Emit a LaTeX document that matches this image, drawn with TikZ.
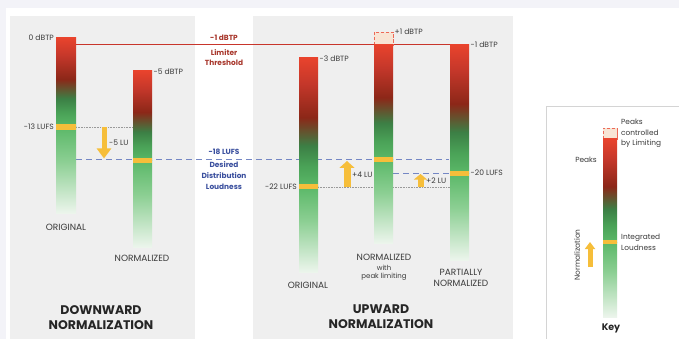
\documentclass[tikz,border=0pt]{standalone}
\usepackage{fontspec}
\setmainfont{Poppins}
\usetikzlibrary{arrows.meta,positioning}

\definecolor{pagetint}{HTML}{F3F3F8}
\definecolor{panelgray}{HTML}{EFEFEF}
\definecolor{keyframe}{HTML}{D4D4D4}
\definecolor{lvlRed}{HTML}{E8432D}
\definecolor{lvlRedMd}{HTML}{C4372A}
\definecolor{lvlRedDk}{HTML}{8C2718}
\definecolor{lvlGreenDk}{HTML}{3C7F45}
\definecolor{lvlGreenMd}{HTML}{4AA257}
\definecolor{lvlGreen}{HTML}{5BB868}
\definecolor{lvlGreenLt}{HTML}{8CCF93}
\definecolor{lvlPale}{HTML}{ECF5EC}
\definecolor{lvlYellow}{HTML}{F6BE3A}
\definecolor{limitRed}{HTML}{C8352B}
\definecolor{limitText}{HTML}{A8372C}
\definecolor{targetBlue}{HTML}{3A4F9E}
\definecolor{targetLine}{HTML}{7487C4}
\definecolor{labelGray}{HTML}{3A3A3A}
\definecolor{peakFill}{HTML}{F8E4D4}

\pgfdeclareverticalshading{peakshade}{100bp}{color(0bp)=(lvlGreen); color(25bp)=(lvlGreen); color(33bp)=(lvlGreenMd); color(41bp)=(lvlGreenDk); color(52bp)=(lvlRedDk); color(65bp)=(lvlRedMd); color(75bp)=(lvlRed); color(100bp)=(lvlRed)}
\pgfdeclareverticalshading{fadeshade}{100bp}{color(0bp)=(lvlPale); color(25bp)=(lvlPale); color(55bp)=(lvlGreenLt); color(75bp)=(lvlGreen); color(100bp)=(lvlGreen)}

\tikzset{
  lvllabel/.style={font=\fontsize{7.6}{9}\selectfont, text=labelGray, inner sep=1pt},
  barname/.style={font=\fontsize{9}{11}\selectfont, text=labelGray, align=center, inner sep=0pt},
  subname/.style={font=\fontsize{7}{9}\selectfont, text=labelGray, align=center, inner sep=0pt},
  paneltitle/.style={font=\fontsize{12.5}{15}\selectfont\bfseries, text=black!85, align=center, inner sep=0pt},
  limitlabel/.style={font=\fontsize{7.4}{10}\selectfont\bfseries, text=limitText, align=center, inner sep=0pt},
  targetlabel/.style={font=\fontsize{7.4}{11}\selectfont\bfseries, text=targetBlue, align=center, inner sep=0pt},
  keylabel/.style={font=\fontsize{7.4}{10.5}\selectfont, text=labelGray, align=left, inner sep=0pt},
  lvlband/.style={fill=lvlYellow},
  peakbox/.style={fill=peakFill, draw=lvlRed!80, densely dashed, line width=0.7pt},
  gainarrow/.style={draw=lvlYellow, line cap=butt},
  refdotted/.style={draw=gray!80, densely dotted, line width=0.6pt},
  refdashed/.style={draw=targetLine, dash pattern=on 6pt off 4pt, line width=1pt}
}

\begin{document}
\begin{tikzpicture}[x=1pt,y=-1pt]
\useasboundingbox (0,0) rectangle (679,339);
\fill [pagetint] (0,0) rectangle (679,339);
\fill [white] (6,8) rectangle (679,339);
\fill [panelgray] (10,16) rectangle (195,339);
\fill [panelgray] (253,16) rectangle (513,339);
\draw [keyframe, fill=white, line width=0.8pt] (546,106) rectangle (690,350);

% reference lines
\draw [limitRed, line width=1pt] (76,45) -- (450,45);
\draw [refdashed] (76,159.5) -- (449,159.5);
\draw [refdashed] (393,173) -- (449,173);
\draw [refdotted] (76,127) -- (133,127);
\draw [refdotted] (318,186.8) -- (450,186.8);

% downward: original
\shade [shading=peakshade] (56,38) rectangle (76,127);
\shade [shading=fadeshade] (56,127) rectangle (76,213);
\fill [lvlband] (56,124.5) rectangle (76,129.8);
% downward: normalized
\shade [shading=peakshade] (133,71) rectangle (152,160.5);
\shade [shading=fadeshade] (133,160.5) rectangle (152,247);
\fill [lvlband] (133,157.8) rectangle (152,163.2);
% upward: original
\shade [shading=peakshade] (299,58) rectangle (318,186.8);
\shade [shading=fadeshade] (299,186.8) rectangle (318,272);
\fill [lvlband] (299,184.2) rectangle (318,189.4);
% upward: normalized with peak limiting
\fill [peakbox] (374,32) rectangle (393,45);
\draw [peakbox] (374,45) -- (374,32) -- (393,32) -- (393,45);
\shade [shading=peakshade] (374,45) rectangle (393,159.5);
\shade [shading=fadeshade] (374,159.5) rectangle (393,243);
\fill [lvlband] (374,156.8) rectangle (393,162.2);
% upward: partially normalized
\shade [shading=peakshade] (450,45) rectangle (469,173);
\shade [shading=fadeshade] (450,173) rectangle (469,260);
\fill [lvlband] (450,170.6) rectangle (469,175.6);
% key
\fill [peakbox] (603,128) rectangle (617,139);
\draw [peakbox] (603,139) -- (603,128) -- (617,128) -- (617,139);
\shade [shading=peakshade] (603,139) rectangle (617,242);
\shade [shading=fadeshade] (603,242) rectangle (617,317);
\fill [lvlband] (603,239.8) rectangle (617,244.2);

% gain arrows
\coordinate (dnfrom) at (104,127.5);
\coordinate (dnto) at (104,158.5);
\coordinate (upfromA) at (347,186.5);
\coordinate (uptoA) at (347,161);
\coordinate (upfromB) at (420.5,186.5);
\coordinate (uptoB) at (420.5,174);
\coordinate (keyfrom) at (590,267);
\coordinate (keyto) at (590,242);
\draw [gainarrow, line width=5pt, -{Triangle[length=10pt,width=14pt]}] (dnfrom) -- (dnto);
\draw [gainarrow, line width=7pt, -{Triangle[length=7pt,width=15pt]}] (upfromA) -- (uptoA);
\draw [gainarrow, line width=6pt, -{Triangle[length=5.5pt,width=13pt]}] (upfromB) -- (uptoB);
\draw [gainarrow, line width=5pt, -{Triangle[length=7pt,width=10pt]}] (keyfrom) -- (keyto);

% level labels
\node [lvllabel, anchor=east] (peakA) at (55,38) {0 dBTP};
\node [lvllabel, anchor=west] (peakB) at (152.5,72) {-5 dBTP};
\node [lvllabel, anchor=east] (loudA) at (55,127) {-13 LUFS};
\node [lvllabel, anchor=west] (gainA) at (108,143) {-5 LU};
\node [lvllabel, anchor=west] (peakC) at (318.5,59) {-3 dBTP};
\node [lvllabel, anchor=east] (loudC) at (298,187) {-22 LUFS};
\node [lvllabel, anchor=west] (peakD) at (393.5,32) {+1 dBTP};
\node [lvllabel, anchor=west] (peakE) at (469.5,45) {-1 dBTP};
\node [lvllabel, anchor=west] (loudE) at (469.5,173) {-20 LUFS};
\node [lvllabel, anchor=west] (gainC) at (351,175) {+4 LU};
\node [lvllabel, anchor=west] (gainD) at (425,181) {+2 LU};

% centre labels
\node [limitlabel] (limitval) at (224,38) {-1 dBTP};
\node [limitlabel, anchor=north] (limitname) at (224,49) {Limiter\\Threshold};
\node [targetlabel] (targetval) at (224,151.5) {-18 LUFS};
\node [targetlabel, anchor=north] (targetname) at (224,161.5) {Desired\\Distribution\\Loudness};

% bar names
\node [barname] (nameA) at (66,227) {ORIGINAL};
\node [barname] (nameB) at (142,258) {NORMALIZED};
\node [barname] (nameC) at (308,285) {ORIGINAL};
\node [barname] (nameD) at (384,257) {NORMALIZED};
\node [subname, anchor=north] (nameDsub) at (384,264.5) {with\\[-1pt]peak limiting};
\node [barname, anchor=north] (nameE) at (461,269.5) {PARTIALLY\\NORMALIZED};

% panel titles
\node [paneltitle, anchor=north] (titleDown) at (101,305) {DOWNWARD\\NORMALIZATION};
\node [paneltitle, anchor=north] (titleUp) at (381,305) {UPWARD\\NORMALIZATION};

% key labels
\node [keylabel, anchor=east] (keypeaks) at (597,160) {Peaks};
\node [keylabel, anchor=north west] (keylimit) at (621,119) {Peaks\\controlled\\by Limiting};
\node [keylabel, anchor=west] (keyloud) at (621,242.5) {Integrated\\Loudness};
\node [keylabel, rotate=90] (keynorm) at (577,255) {Normalization};
\node [font=\fontsize{9.5}{11}\selectfont\bfseries, text=black!85] (keytitle) at (611,328) {Key};
\end{tikzpicture}
\end{document}
